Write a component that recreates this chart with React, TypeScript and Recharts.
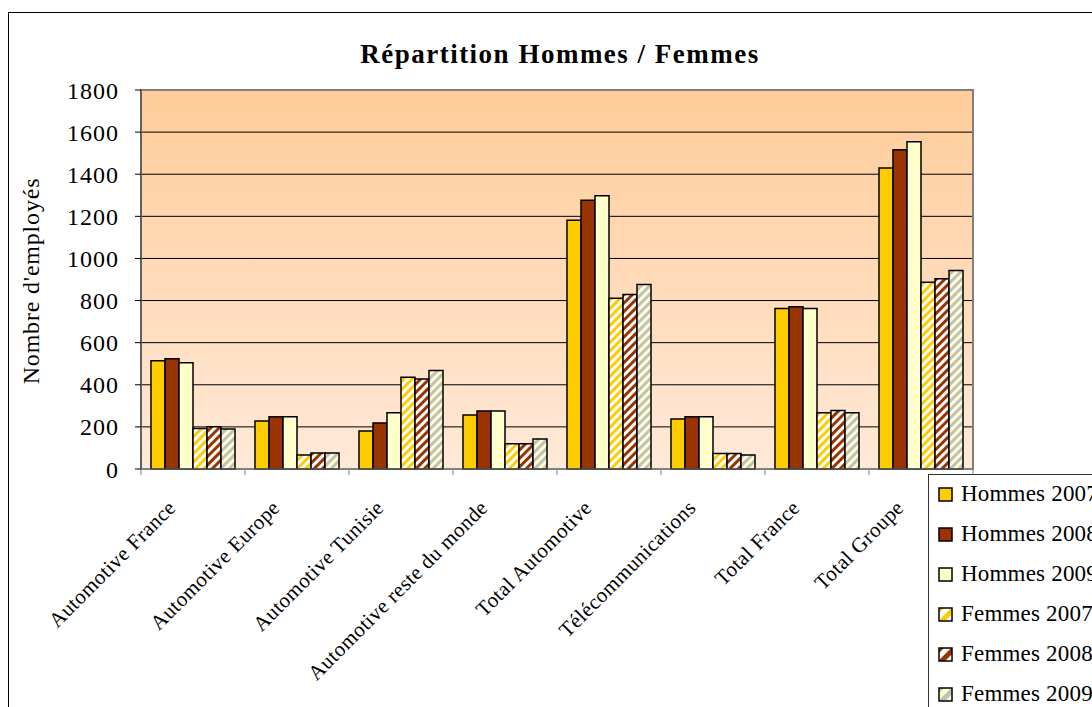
import React from "react"
import { BarChart, Bar, XAxis, YAxis, CartesianGrid, ReferenceArea, Label } from "recharts"

const categories = [
  "Automotive France",
  "Automotive Europe",
  "Automotive Tunisie",
  "Automotive reste du monde",
  "Total Automotive",
  "Télécommunications",
  "Total France",
  "Total Groupe",
]
const hommes2007 = [514, 228, 181, 257, 1181, 238, 762, 1429]
const hommes2008 = [524, 248, 219, 276, 1276, 248, 771, 1516]
const hommes2009 = [505, 248, 267, 276, 1298, 248, 762, 1554]
const femmes2007 = [192, 67, 436, 120, 811, 74, 267, 887]
const femmes2008 = [201, 76, 428, 120, 829, 74, 278, 903]
const femmes2009 = [190, 76, 468, 143, 876, 67, 267, 943]
const yTicks = [0, 200, 400, 600, 800, 1000, 1200, 1400, 1600, 1800]

const series = [
  { key: "h2007", name: "Hommes 2007", fill: "#FFCC00" },
  { key: "h2008", name: "Hommes 2008", fill: "#993300" },
  { key: "h2009", name: "Hommes 2009", fill: "#FFFFCC" },
  { key: "f2007", name: "Femmes 2007", fill: "url(#stripeYellow)" },
  { key: "f2008", name: "Femmes 2008", fill: "url(#stripeBrown)" },
  { key: "f2009", name: "Femmes 2009", fill: "url(#stripeGrey)" },
]

const data = categories.map((name, i) => ({
  name,
  h2007: hommes2007[i],
  h2008: hommes2008[i],
  h2009: hommes2009[i],
  f2007: femmes2007[i],
  f2008: femmes2008[i],
  f2009: femmes2009[i],
}))

const FONT = '"Liberation Serif", "Times New Roman", serif'
const PLOT_BOTTOM = 469
const HALF_BAND = 52

const XTick = ({ x, payload, index }: any) => {
  const tx = x - 16
  const ty = PLOT_BOTTOM + 40
  return (
    <g>
      <line x1={x - HALF_BAND} y1={PLOT_BOTTOM} x2={x - HALF_BAND} y2={PLOT_BOTTOM + 6} stroke="#808080" />
      {index === categories.length - 1 && (
        <line x1={x + HALF_BAND} y1={PLOT_BOTTOM} x2={x + HALF_BAND} y2={PLOT_BOTTOM + 6} stroke="#808080" />
      )}
      <text
        x={tx}
        y={ty}
        transform={`rotate(-45, ${tx}, ${ty})`}
        textAnchor="end"
        fontFamily={FONT}
        fontSize={21}
        letterSpacing={0.4}
        fill="#000"
      >
        {payload.value}
      </text>
    </g>
  )
}

const Stripes = ({ id, bg, fg, size }: { id: string; bg: string; fg: string; size: number }) => (
  <pattern id={id} width={size} height={size} patternUnits="userSpaceOnUse" patternTransform="rotate(45)">
    <rect width={size} height={size} fill={bg} />
    <rect width={size / 2} height={size} fill={fg} />
  </pattern>
)

function LegendBox() {
  return (
    <div
      style={{
        position: "absolute",
        left: 928,
        top: 474,
        width: 300,
        height: 300,
        border: "1px solid #333",
        background: "#fff",
        fontFamily: FONT,
        fontSize: 23,
        letterSpacing: 0.2,
      }}
    >
      {series.map((s, i) => (
        <div key={s.key} style={{ position: "absolute", left: 9, top: 6 + i * 40, height: 26, display: "flex", alignItems: "center", whiteSpace: "nowrap" }}>
          <svg width={15} height={15} style={{ marginRight: 8 }}>
            <defs>
              <Stripes id={`lg-${s.key}`} bg={s.key === "f2009" ? "#FFFFCC" : "#fff"} fg={s.key === "f2007" ? "#FFCC00" : s.key === "f2008" ? "#993300" : "#C0C0C0"} size={10} />
            </defs>
            <rect x={1} y={1} width={13} height={13} fill={s.key.startsWith("f") ? `url(#lg-${s.key})` : s.fill} stroke="#000" strokeWidth={1.5} />
          </svg>
          <span>{s.name}</span>
        </div>
      ))}
    </div>
  )
}

export default function App() {
  return (
    <div style={{ position: "fixed", left: 0, top: 0, width: 1092, height: 707, overflow: "hidden", background: "#fff" }}>
      <div style={{ position: "absolute", left: 8, top: 12, width: 1200, height: 800, border: "1.5px solid #000" }} />
      <div
        style={{
          position: "absolute",
          left: 0,
          width: 1120,
          top: 39,
          textAlign: "center",
          fontFamily: FONT,
          fontWeight: "bold",
          fontSize: 27,
          letterSpacing: 1.5,
        }}
      >
        Répartition Hommes / Femmes
      </div>
      <div style={{ position: "absolute", left: 0, top: 0 }}>
        <BarChart
          width={1092}
          height={707}
          data={data}
          margin={{ top: 90, right: 119, bottom: 0, left: 0 }}
          barGap={0}
          barCategoryGap={10}
        >
          <defs>
            <linearGradient id="bg" x1="0" y1="0" x2="0" y2="1">
              <stop offset="0%" stopColor="#FFCC99" />
              <stop offset="100%" stopColor="#FFE9D8" />
            </linearGradient>
            <Stripes id="stripeYellow" bg="#FFFFFF" fg="#FFCC00" size={6} />
            <Stripes id="stripeBrown" bg="#FFFFFF" fg="#993300" size={6} />
            <Stripes id="stripeGrey" bg="#FFFFCC" fg="#C0C0C0" size={6} />
          </defs>
          <CartesianGrid vertical={false} stroke="#000" fill="url(#bg)" fillOpacity={1} />
          <ReferenceArea y1={0} y2={1800} fill="none" stroke="#808080" strokeWidth={2} ifOverflow="visible" />
          <XAxis
            dataKey="name"
            interval={0}
            height={238}
            tickLine={false}
            axisLine={{ stroke: "#808080" }}
            tick={<XTick />}
          />
          <YAxis
            domain={[0, 1800]}
            ticks={yTicks}
            width={141}
            tickSize={6}
            tickMargin={16}
            axisLine={{ stroke: "#404040" }}
            tickLine={{ stroke: "#000" }}
            tick={{ fontFamily: FONT, fontSize: 24, fill: "#000", letterSpacing: 1 }}
          >
            <Label
              content={() => (
                <text
                  x={39}
                  y={281}
                  transform="rotate(-90, 39, 281)"
                  textAnchor="middle"
                  fontFamily={FONT}
                  fontSize={24}
                  letterSpacing={0.8}
                  fill="#000"
                >
                  Nombre d'employés
                </text>
              )}
            />
          </YAxis>
          {series.map((s) => (
            <Bar key={s.key} dataKey={s.key} name={s.name} fill={s.fill} stroke="#000" strokeWidth={1.5} isAnimationActive={false} />
          ))}
        </BarChart>
      </div>
      <LegendBox />
    </div>
  )
}
